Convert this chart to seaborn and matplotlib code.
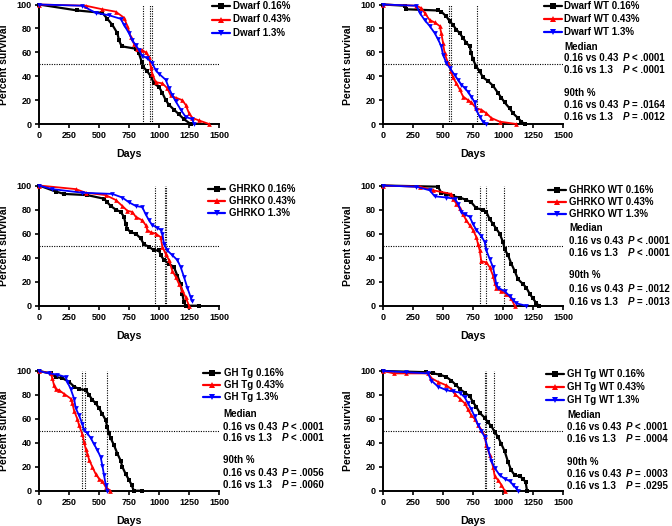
import matplotlib
matplotlib.use('Agg')
import matplotlib.pyplot as plt
import seaborn as sns
from matplotlib.lines import Line2D

sns.set_style('ticks')
plt.rcParams['font.family'] = ['Liberation Sans', 'DejaVu Sans']
plt.rcParams['font.weight'] = 'bold'
for k in ['axes.edgecolor', 'xtick.color', 'ytick.color', 'text.color', 'axes.labelcolor']:
    plt.rcParams[k] = 'black'

# ---------------- data (days, percent survival) ----------------
# Dwarf
dwarf_016_days = [0, 320, 528, 570, 611, 653, 667, 689, 806, 833, 856, 867, 903, 931, 958, 1000, 1028, 1056, 1083, 1125, 1167, 1208, 1264]
dwarf_016_surv = [100, 95, 93, 88, 83, 76, 70, 65, 63, 59, 52, 48, 44, 40, 34, 31, 26, 20, 16, 12, 8, 4, 0]
dwarf_043_days = [0, 389, 528, 639, 708, 736, 764, 792, 819, 856, 889, 917, 931, 944, 972, 1028, 1069, 1097, 1139, 1194, 1222, 1250, 1278, 1333, 1417]
dwarf_043_surv = [100, 99, 96, 94, 89, 82, 73, 67, 63, 62, 60, 56, 48, 42, 35, 34, 30, 24, 22, 20, 16, 9, 5, 3, 0]
dwarf_13_days = [0, 361, 472, 583, 681, 708, 750, 778, 806, 833, 861, 903, 944, 972, 1000, 1056, 1083, 1111, 1139, 1181, 1222, 1278, 1292]
dwarf_13_surv = [100, 99, 93, 91, 88, 83, 76, 70, 66, 62, 57, 55, 51, 45, 42, 37, 30, 24, 19, 12, 6, 4, 0]
dwarf_medians = [865, 928, 942]

# Dwarf WT
dwt_016_days = [0, 180, 194, 458, 486, 528, 556, 583, 611, 639, 667, 694, 722, 736, 750, 778, 806, 833, 875, 917, 958, 986, 1014, 1056, 1083, 1125, 1153, 1180]
dwt_016_surv = [100, 99, 96, 95, 94, 90, 86, 83, 79, 76, 72, 68, 65, 59, 54, 48, 44, 39, 36, 32, 26, 22, 18, 13, 9, 5, 2, 0]
dwt_043_days = [0, 278, 319, 347, 389, 431, 472, 486, 500, 514, 542, 569, 583, 611, 639, 667, 708, 736, 778, 819, 861, 903, 972, 1110]
dwt_043_surv = [100, 99, 97, 93, 87, 85, 82, 76, 68, 59, 51, 44, 39, 34, 29, 23, 20, 18, 13, 12, 9, 5, 2, 0]
dwt_13_days = [0, 278, 306, 347, 389, 431, 458, 486, 500, 528, 556, 597, 625, 653, 681, 708, 736, 764, 778, 806, 833, 861]
dwt_13_surv = [100, 99, 93, 87, 82, 76, 71, 65, 58, 51, 47, 41, 37, 33, 30, 27, 23, 18, 12, 6, 2, 0]
dwt_medians = [550, 567, 780]

# GHRKO
ghrko_016_days = [0, 139, 208, 403, 542, 569, 597, 639, 681, 708, 722, 736, 764, 806, 847, 875, 917, 958, 1000, 1014, 1042, 1083, 1125, 1153, 1181, 1194, 1208, 1222, 1333]
ghrko_016_surv = [100, 95, 93, 92, 89, 86, 83, 80, 78, 74, 68, 64, 61, 60, 56, 51, 49, 46, 46, 42, 38, 35, 32, 25, 18, 10, 3, 0, 0]
ghrko_043_days = [0, 306, 389, 556, 639, 694, 736, 778, 806, 861, 889, 903, 931, 972, 1014, 1028, 1056, 1083, 1111, 1139, 1167, 1194, 1222, 1250]
ghrko_043_surv = [100, 97, 94, 92, 88, 83, 79, 78, 74, 71, 67, 63, 61, 60, 57, 49, 43, 38, 29, 24, 18, 13, 7, 0]
ghrko_13_days = [0, 111, 361, 611, 694, 750, 806, 861, 889, 917, 944, 986, 1014, 1028, 1042, 1069, 1111, 1153, 1181, 1208, 1236, 1264, 1272]
ghrko_13_surv = [100, 97, 94, 93, 90, 86, 83, 82, 76, 71, 67, 65, 63, 60, 51, 46, 42, 38, 32, 24, 15, 7, 4]
ghrko_medians = [965, 1053, 1059]

# GHRKO WT
gwt_016_days = [0, 458, 486, 528, 583, 639, 694, 736, 778, 833, 861, 889, 917, 944, 972, 1000, 1014, 1042, 1069, 1097, 1125, 1167, 1194, 1222, 1250, 1278, 1300]
gwt_016_surv = [100, 99, 94, 93, 91, 90, 88, 86, 81, 80, 78, 72, 68, 64, 60, 53, 47, 42, 35, 29, 22, 18, 15, 10, 6, 2, 0]
gwt_043_days = [0, 306, 417, 569, 583, 611, 639, 667, 694, 722, 750, 778, 792, 806, 819, 861, 889, 917, 931, 944, 986, 1028, 1069, 1097]
gwt_043_surv = [100, 99, 96, 93, 89, 85, 81, 76, 71, 67, 63, 57, 51, 46, 37, 36, 32, 25, 19, 15, 12, 10, 6, 0]
gwt_13_days = [0, 278, 389, 431, 528, 597, 625, 653, 681, 722, 750, 778, 819, 847, 861, 889, 917, 931, 944, 958, 1014, 1056, 1083, 1111, 1190]
gwt_13_surv = [100, 99, 96, 91, 90, 89, 85, 78, 76, 74, 68, 63, 58, 53, 46, 39, 32, 25, 18, 15, 12, 8, 5, 2, 0]
gwt_medians = [810, 858, 1005]

# GH Tg
tg_016_days = [0, 97, 139, 194, 250, 292, 333, 389, 417, 444, 472, 500, 528, 556, 569, 583, 597, 625, 653, 681, 694, 722, 750, 771, 790, 858]
tg_016_surv = [100, 98, 95, 94, 91, 87, 85, 84, 80, 76, 73, 69, 64, 59, 53, 48, 44, 38, 31, 25, 20, 14, 9, 5, 0, 0]
tg_043_days = [0, 97, 111, 125, 139, 167, 208, 264, 278, 292, 319, 333, 361, 375, 389, 403, 417, 444, 472, 500, 528, 556, 594]
tg_043_surv = [100, 98, 94, 88, 85, 84, 81, 77, 73, 67, 60, 55, 47, 41, 35, 31, 26, 20, 14, 10, 8, 3, 0]
tg_13_days = [0, 83, 153, 222, 236, 264, 292, 306, 333, 361, 375, 403, 431, 458, 486, 514, 528, 542, 556, 569]
tg_13_surv = [100, 98, 97, 95, 91, 85, 77, 69, 63, 56, 51, 48, 44, 39, 34, 28, 21, 13, 5, 0]
tg_medians = [357, 385, 567]

# GH Tg WT
tgwt_016_days = [0, 361, 417, 472, 528, 569, 611, 639, 681, 722, 750, 778, 806, 847, 875, 903, 931, 958, 986, 1014, 1042, 1069, 1097, 1139, 1167, 1189, 1200]
tgwt_016_surv = [100, 99, 98, 97, 95, 92, 88, 85, 82, 79, 74, 70, 65, 61, 57, 54, 49, 45, 39, 33, 24, 17, 13, 12, 10, 7, 0]
tgwt_043_days = [0, 90, 194, 375, 403, 458, 528, 569, 597, 639, 681, 708, 736, 764, 792, 819, 847, 861, 889, 917, 931, 958, 986, 1014]
tgwt_043_surv = [100, 98, 98, 98, 94, 91, 88, 85, 81, 77, 73, 68, 63, 60, 55, 51, 46, 38, 30, 20, 12, 9, 5, 0]
tgwt_13_days = [0, 194, 375, 403, 458, 528, 583, 639, 681, 708, 736, 764, 792, 819, 847, 875, 903, 931, 972, 1014, 1056, 1083, 1111, 1125]
tgwt_13_surv = [100, 99, 98, 92, 87, 84, 83, 82, 78, 73, 68, 62, 55, 50, 45, 35, 25, 19, 13, 10, 8, 5, 2, 0]
tgwt_medians = [852, 858, 928]

x_ticks = [0, 250, 500, 750, 1000, 1250, 1500]
y_ticks = [0, 20, 40, 60, 80, 100]

dwarf_labels = ['Dwarf 0.16%', 'Dwarf 0.43%', 'Dwarf 1.3%']
dwt_labels = ['Dwarf WT 0.16%', 'Dwarf WT 0.43%', 'Dwarf WT 1.3%']
ghrko_labels = ['GHRKO 0.16%', 'GHRKO 0.43%', 'GHRKO 1.3%']
gwt_labels = ['GHRKO WT 0.16%', 'GHRKO WT 0.43%', 'GHRKO WT 1.3%']
tg_labels = ['GH Tg 0.16%', 'GH Tg 0.43%', 'GH Tg 1.3%']
tgwt_labels = ['GH Tg WT 0.16%', 'GH Tg WT 0.43%', 'GH Tg WT 1.3%']

dwt_p = ['< .0001', '< .0001', '= .0164', '= .0012']
gwt_p = ['< .0001', '< .0001', '= .0012', '= .0013']
tg_p = ['< .0001', '< .0001', '= .0056', '= .0060']
tgwt_p = ['< .0001', '= .0004', '= .0003', '= .0295']

# ---------------- styling ----------------
STYLES = [('#000000', 's', 1.6, 3.2), ('#ff0000', '^', 1.3, 3.4), ('#0000ff', 'v', 1.3, 3.4)]
W, H = 672, 526
fig = plt.figure(figsize=(W / 100, H / 100), dpi=100)


def fy(y):
    return 1 - y / H


panels = [
    dict(box=(39, 4.5, 219, 124), series=[(dwarf_016_days, dwarf_016_surv), (dwarf_043_days, dwarf_043_surv), (dwarf_13_days, dwarf_13_surv)],
         med=dwarf_medians, labels=dwarf_labels, leg=(212, 230, 233, [6, 19.5, 33]), stats=None),
    dict(box=(383, 4.5, 563, 124), series=[(dwt_016_days, dwt_016_surv), (dwt_043_days, dwt_043_surv), (dwt_13_days, dwt_13_surv)],
         med=dwt_medians, labels=dwt_labels, leg=(544, 562, 564, [6, 19, 32]),
         stats=(564, [47, 58, 70, 93, 105, 117], dwt_p)),
    dict(box=(39, 185.5, 219, 305.7), series=[(ghrko_016_days, ghrko_016_surv), (ghrko_043_days, ghrko_043_surv), (ghrko_13_days, ghrko_13_surv)],
         med=ghrko_medians, labels=ghrko_labels, leg=(208, 225, 229, [189, 201, 213]), stats=None),
    dict(box=(383, 185.5, 563, 305.7), series=[(gwt_016_days, gwt_016_surv), (gwt_043_days, gwt_043_surv), (gwt_13_days, gwt_13_surv)],
         med=gwt_medians, labels=gwt_labels, leg=(548, 566, 569, [190, 202, 214]),
         stats=(569, [228, 241, 253, 275, 289, 302], gwt_p)),
    dict(box=(39, 371, 219, 490.7), series=[(tg_016_days, tg_016_surv), (tg_043_days, tg_043_surv), (tg_13_days, tg_13_surv)],
         med=tg_medians, labels=tg_labels, leg=(203, 220, 224, [373, 385, 397]),
         stats=(223, [414, 427, 438, 460, 473, 485], tg_p)),
    dict(box=(383, 371, 563, 490.7), series=[(tgwt_016_days, tgwt_016_surv), (tgwt_043_days, tgwt_043_surv), (tgwt_13_days, tgwt_13_surv)],
         med=tgwt_medians, labels=tgwt_labels, leg=(546, 564, 567, [374, 387, 400]),
         stats=(567, [415, 427, 439, 462, 474, 486], tgwt_p)),
]

TXT = 7
for p in panels:
    x0, y0, x1, y1 = p['box']
    ax = fig.add_axes([x0 / W, 1 - y1 / H, (x1 - x0) / W, (y1 - y0) / H])
    ax.axhline(50, color='black', lw=0.8, ls=(0, (1, 1.2)), zorder=1)
    for m in p['med']:
        ax.axvline(m, color='black', lw=0.8, ls=(0, (1, 1.2)), zorder=1)
    for (d, s), (c, mk, lw, ms), lab in zip(p['series'], STYLES, p['labels']):
        sns.lineplot(x=d, y=s, ax=ax, color=c, marker=mk, markersize=ms, markeredgewidth=0,
                     markeredgecolor=c, linewidth=lw, estimator=None, sort=False,
                     legend=False, clip_on=False, zorder=3)
    ax.set_xlim(0, 1500)
    ax.set_ylim(0, 100)
    ax.set_xticks(x_ticks)
    ax.set_yticks(y_ticks)
    ax.tick_params(direction='out', length=3.2, width=1.2, labelsize=6.5, pad=2)
    for sp in ['top', 'right']:
        ax.spines[sp].set_visible(False)
    for sp in ['left', 'bottom']:
        ax.spines[sp].set_linewidth(1.4)
        ax.spines[sp].set_color('black')
    ax.set_xlabel('Days', fontsize=7.7, fontweight='bold')
    ax.set_ylabel('Percent survival', fontsize=7.5, fontweight='bold')
    ax.xaxis.set_label_coords(0.5, -0.21)
    ax.yaxis.set_label_coords(-0.165, 0.5)

    # legend
    lx0, lx1, tx, ys = p['leg']
    for y, lab, (c, mk, lw, ms) in zip(ys, p['labels'], STYLES):
        fig.add_artist(Line2D([lx0 / W, lx1 / W], [fy(y), fy(y)], transform=fig.transFigure,
                              color=c, lw=1.6))
        fig.add_artist(Line2D([(lx0 + lx1) / 2 / W], [fy(y)], transform=fig.transFigure,
                              color=c, marker=mk, ms=ms + 1.3, mew=0, ls='none'))
        fig.text(tx / W, fy(y), lab, fontsize=TXT, fontweight='bold', va='center', ha='left')

    # stats
    if p['stats'] is not None:
        sx, sy, pv = p['stats']
        px = sx + 58.5
        rx = px + 9.5
        fig.text(sx / W, fy(sy[0]), 'Median', fontsize=TXT, fontweight='bold', va='center')
        fig.text(sx / W, fy(sy[3]), '90th %', fontsize=TXT, fontweight='bold', va='center')
        comps = ['0.16 vs 0.43', '0.16 vs 1.3', '0.16 vs 0.43', '0.16 vs 1.3']
        for yy, cmp_, val in zip([sy[1], sy[2], sy[4], sy[5]], comps, pv):
            fig.text(sx / W, fy(yy), cmp_, fontsize=TXT, fontweight='bold', va='center')
            fig.text(px / W, fy(yy), 'P', fontsize=TXT, fontweight='bold', style='italic', va='center')
            fig.text(rx / W, fy(yy), val, fontsize=TXT, fontweight='bold', va='center')

fig.savefig('out.png', dpi=100, facecolor='white')
